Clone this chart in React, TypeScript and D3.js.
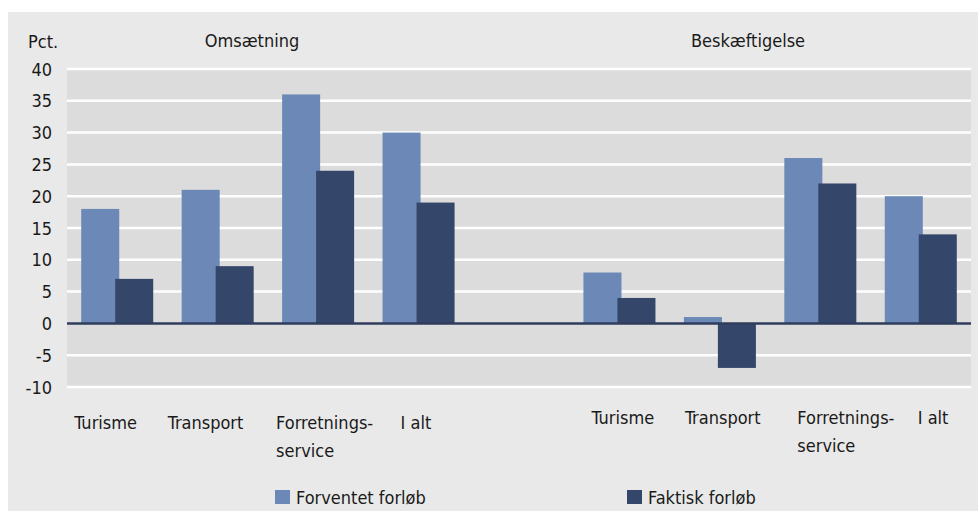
import { range, scaleBand, scaleLinear } from "d3";
import type { ReactElement } from "react";

// slots: 4 Omsætning, one empty spacer, 4 Beskæftigelse
const slots = ["o-tur", "o-tra", "o-for", "o-alt", "gap", "b-tur", "b-tra", "b-for", "b-alt"];
const slotLabels = [["Turisme"], ["Transport"], ["Forretnings-", "service"], ["I alt"], [], ["Turisme"], ["Transport"], ["Forretnings-", "service"], ["I alt"]];
const expected = [18, 21, 36, 30, null, 8, 1, 26, 20];
const actual = [7, 9, 24, 19, null, 4, -7, 22, 14];
const yTicks = [40, 35, 30, 25, 20, 15, 10, 5, 0, -5, -10];
const panelTitles = ["Omsætning", "Beskæftigelse"];
const seriesNames = ["Forventet forløb", "Faktisk forløb"];

// label placement (text start relative to slot centre), taken from the original layout
const labelDx = [-43, -50, -42, -18, 0, -28, -35, -23, -3];

const W = 978;
const H = 511;
const plot = { left: 67, right: 971, top: 69, bottom: 387 } as const;
const colors = { light: "#6b88b6", dark: "#34476a", plot: "#dcdcdc", outer: "#e9e9e9", text: "#1a1a1a", zero: "#2f3d5c" };
const font = "'DejaVu Sans Condensed', 'Liberation Sans Narrow', sans-serif";
const fs = 18;

export default function App(): ReactElement {
  const x = scaleBand<string>().domain(slots).range([plot.left, plot.right]).padding(0);
  const y = scaleLinear().domain([-10, 40]).range([plot.bottom, plot.top]);

  const band = x.bandwidth();
  const pairW = band * 0.717;
  const barW = pairW * 0.528;
  const shift = pairW - barW;

  const bar = (v: number | null, x0: number, fill: string, key: string) => {
    if (v === null) return null;
    const y0 = y(Math.max(0, v));
    const h = Math.abs(y(v) - y(0));
    return <rect key={key} x={x0} y={y0} width={barW} height={h} fill={fill} />;
  };

  return (
    <svg
      width={W}
      height={H}
      viewBox={`0 0 ${W} ${H}`}
      style={{ position: "absolute", left: 0, top: 0, display: "block" }}
      fontFamily={font}
    >
      <rect x={0} y={0} width={W} height={H} fill="#ffffff" />
      <rect x={8} y={12} width={W - 8} height={H - 12} fill={colors.outer} />
      <rect x={plot.left} y={plot.top} width={plot.right - plot.left} height={plot.bottom - plot.top} fill={colors.plot} />

      {yTicks.map((t) => (
        <g key={`y-${t}`}>
          {t !== 0 && (
            <line x1={plot.left} x2={plot.right} y1={y(t)} y2={y(t)} stroke="#ffffff" strokeWidth={2.5} />
          )}
          <text x={52} y={y(t)} textAnchor="end" dominantBaseline="central" fontSize={fs} fill={colors.text}>
            {t}
          </text>
        </g>
      ))}

      {range(slots.length).map((i) => {
        const cx = (x(slots[i]) ?? 0) + band / 2;
        const left = cx - pairW / 2;
        return (
          <g key={slots[i]}>
            {bar(expected[i], left, colors.light, `e-${i}`)}
            {bar(actual[i], left + shift, colors.dark, `a-${i}`)}
          </g>
        );
      })}

      <line x1={plot.left} x2={plot.right} y1={y(0)} y2={y(0)} stroke={colors.zero} strokeWidth={2.5} />

      {range(slots.length).map((i) => {
        const cx = (x(slots[i]) ?? 0) + band / 2;
        const baseY = i < 4 ? 429 : 424;
        return (
          <text key={`l-${i}`} x={cx + labelDx[i]} y={baseY} fontSize={fs} fill={colors.text}>
            {slotLabels[i].map((ln, j) => (
              <tspan key={ln} x={cx + labelDx[i]} dy={j === 0 ? 0 : 28}>
                {ln}
              </tspan>
            ))}
          </text>
        );
      })}

      <text x={28} y={48} fontSize={fs} fill={colors.text}>Pct.</text>
      <text x={252} y={47} textAnchor="middle" fontSize={fs} fill={colors.text}>{panelTitles[0]}</text>
      <text x={748} y={47} textAnchor="middle" fontSize={fs} fill={colors.text}>{panelTitles[1]}</text>

      <rect x={275} y={490} width={15} height={14} fill={colors.light} />
      <text x={296} y={504} fontSize={fs} fill={colors.text}>{seriesNames[0]}</text>
      <rect x={627} y={490} width={15} height={14} fill={colors.dark} />
      <text x={648} y={504} fontSize={fs} fill={colors.text}>{seriesNames[1]}</text>
    </svg>
  );
}
